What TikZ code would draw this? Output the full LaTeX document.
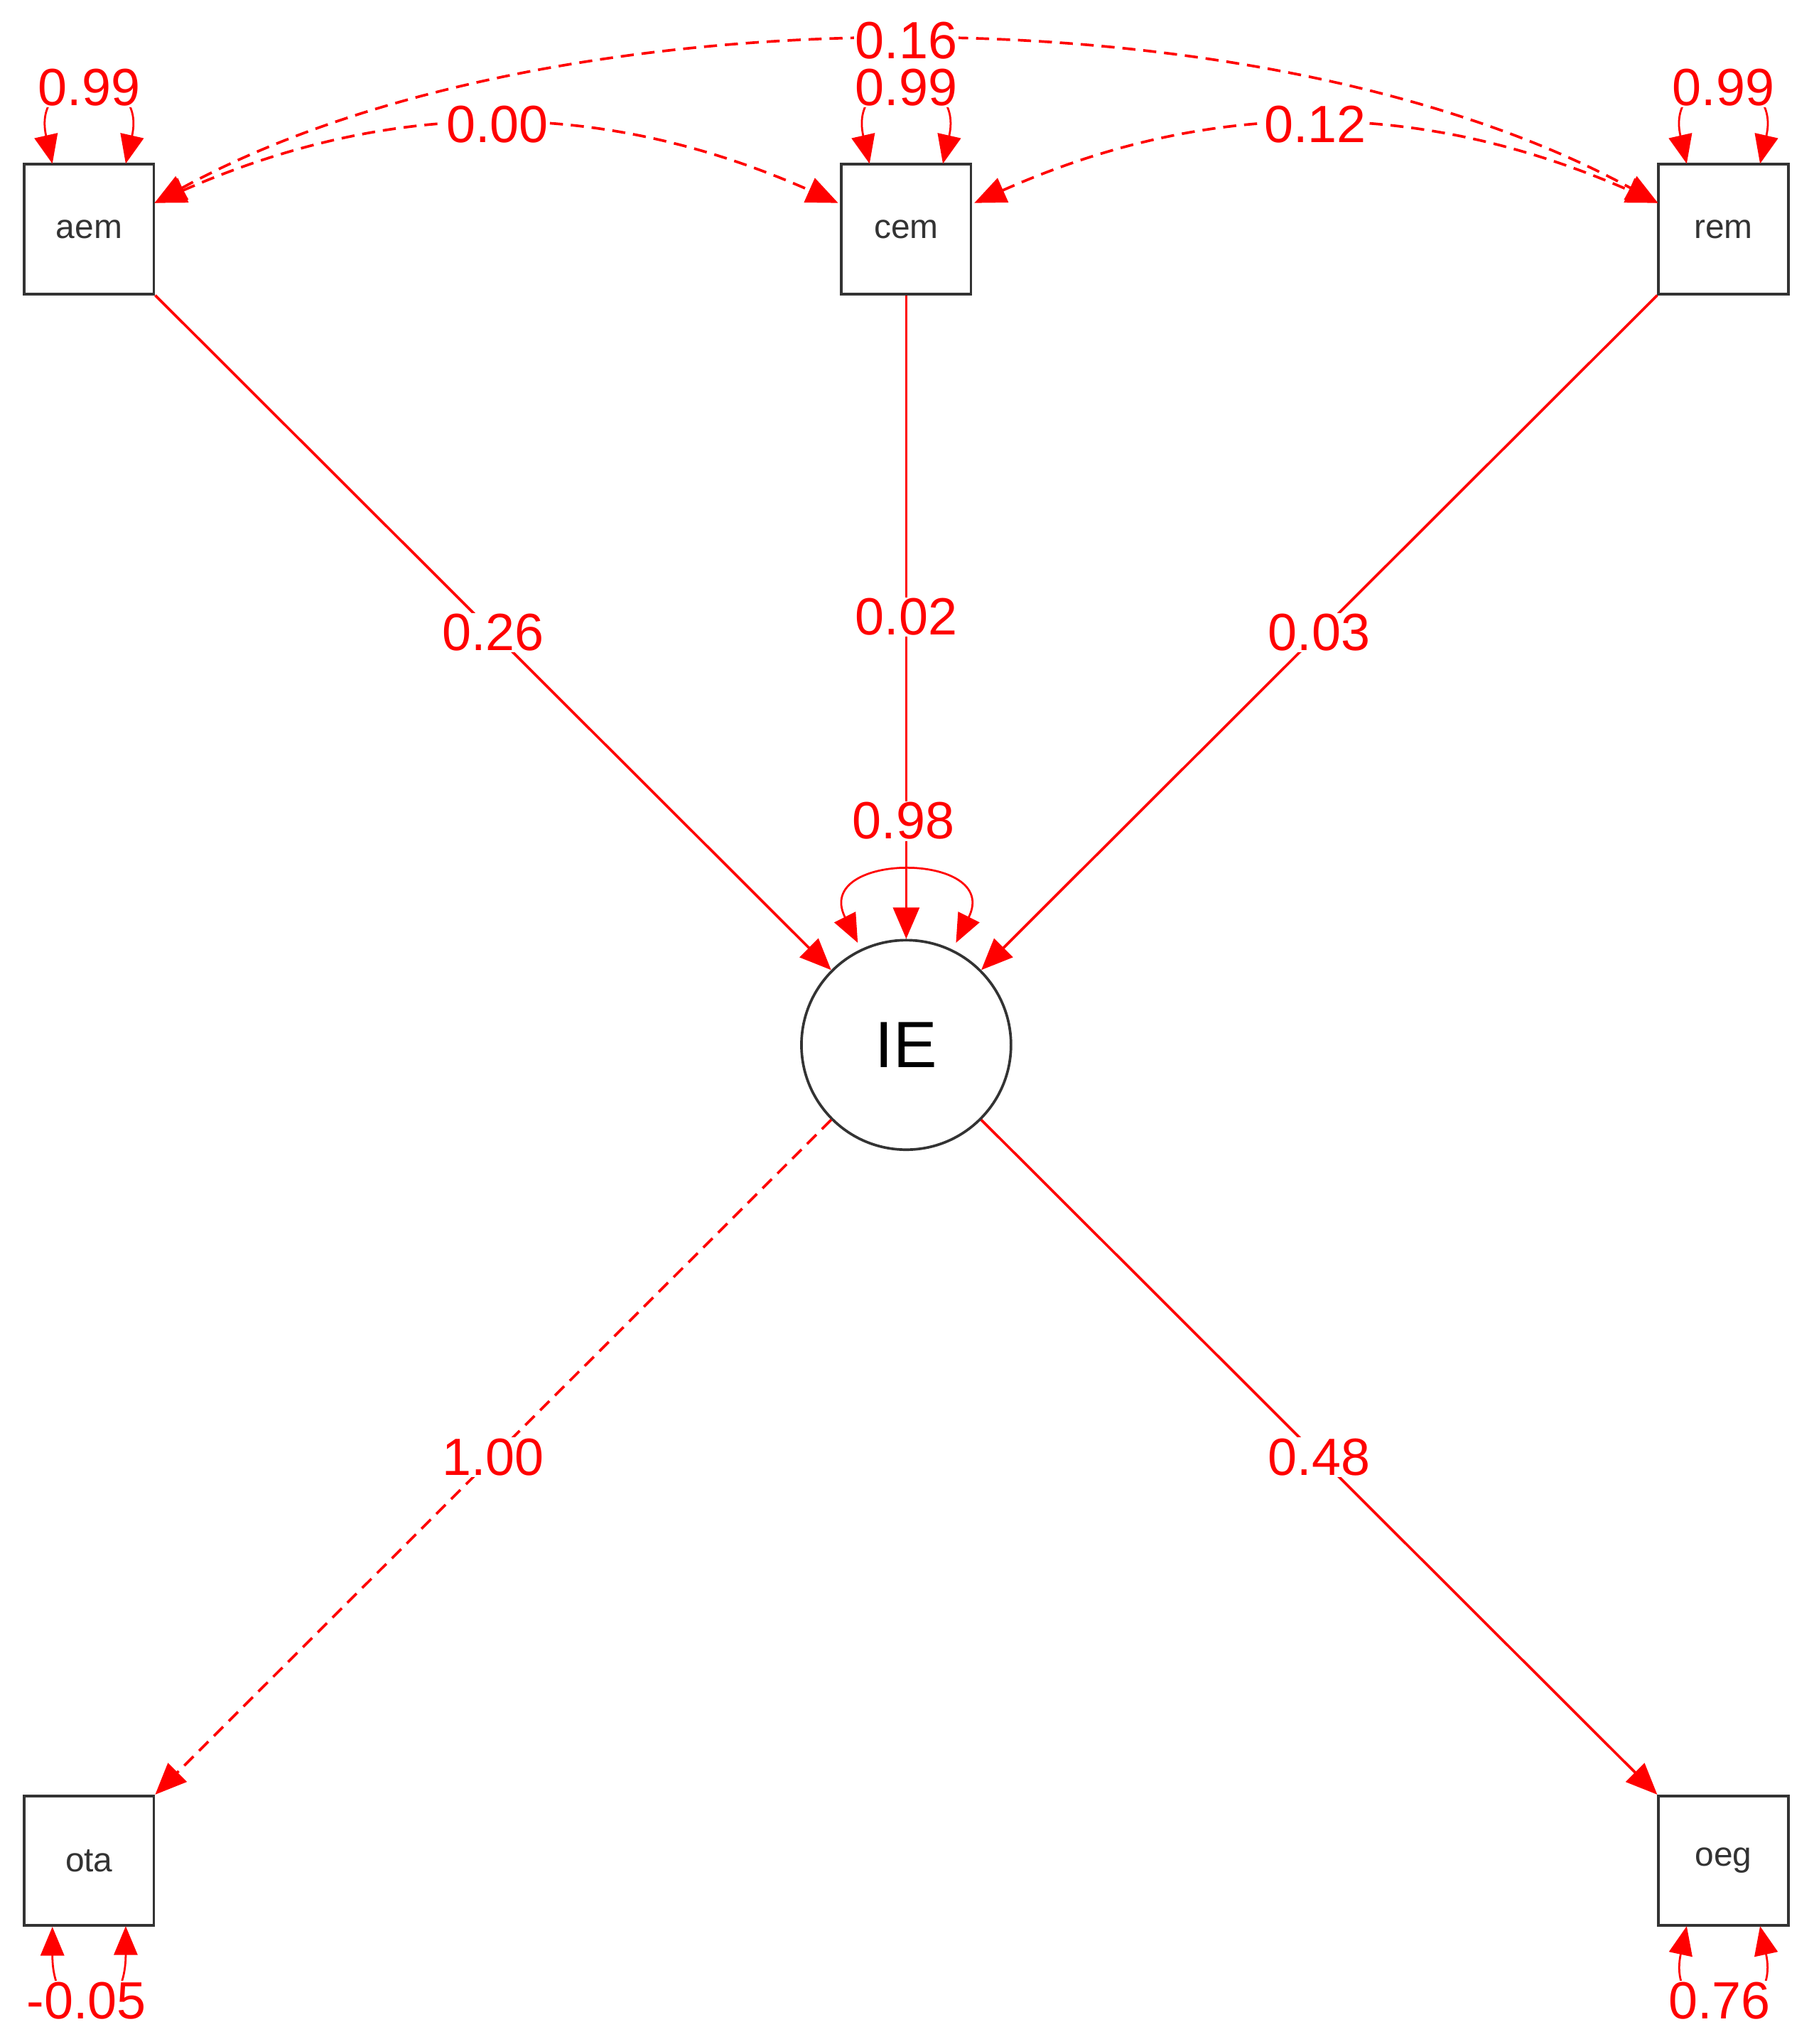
\documentclass[tikz,border=0pt]{standalone}
\usepackage{fontspec}
\setmainfont{Liberation Sans}
\usetikzlibrary{arrows.meta}
\begin{document}
\begin{tikzpicture}[x=1pt,y=-1pt,
  obs/.style={draw=black!80,line width=2pt,minimum size=99pt,inner sep=0pt,font=\fontsize{26}{28}\selectfont,text=black!80},
  lat/.style={draw=black!80,line width=2pt,circle,minimum size=160pt,font=\fontsize{50}{54}\selectfont},
  pth/.style={red,line width=2pt,-{Triangle[length=24pt,width=20pt]}},
  cov/.style={red,line width=2pt,dashed,dash pattern=on 10pt off 6pt,{Triangle[length=24pt,width=20pt]}-{Triangle[length=24pt,width=20pt]}},
  var/.style={red,line width=1.5pt,{Triangle[length=22pt,width=18pt]}-{Triangle[length=22pt,width=18pt]}},
  lab/.style={fill=white,text=red,inner sep=1pt,font=\fontsize{40}{44}\selectfont}]
\useasboundingbox (0,0) rectangle (1385,1561);
\node[obs] (aem) at (68,175) {aem};
\node[obs] (cem) at (692,175) {cem};
\node[obs] (rem) at (1316,175) {rem};
\node[lat] (IE) at (692,798) {IE};
\node[obs] (ota) at (68,1421) {ota};
\node[obs] (oeg) at (1316,1421) {oeg};
% paths
\draw[pth] (aem.south east) -- (IE) node[lab,pos=0.5] {0.26};
\draw[pth] (cem.south) -- (IE.north) node[lab,pos=0.5] {0.02};
\draw[pth] (rem.south west) -- (IE) node[lab,pos=0.5] {0.03};
\draw[pth,dashed,dash pattern=on 10pt off 6pt] (IE) -- (ota.north east) node[lab,pos=0.5] {1.00};
\draw[pth] (IE) -- (oeg.north west) node[lab,pos=0.5] {0.48};
% covariances
\coordinate (a1) at (118,155); \coordinate (c1) at (640,155);
\coordinate (c2) at (744,155); \coordinate (r1) at (1266,155);
\draw[cov] (a1) .. controls (300,75) and (460,75) .. (c1) node[lab,pos=0.5] {0.00};
\draw[cov] (c2) .. controls (924,75) and (1084,75) .. (r1) node[lab,pos=0.5] {0.12};
\draw[cov] (a1) .. controls (420,-10) and (964,-10) .. (r1) node[lab,pos=0.5] {0.16};
% variances
\foreach \n/\x in {aem/68,cem/692,rem/1316}{
  \draw[var] (\x-28,125) .. controls (\x-45,50) and (\x+45,50) .. (\x+28,125);
  \node[lab] at (\x,67) {0.99};}
\draw[var] (ota.south) ++(-28,0) .. controls (40,1550) and (96,1550) .. (96,1471);
\node[lab] at (66,1528) {-0.05};
\draw[var] (1288,1471) .. controls (1271,1550) and (1361,1550) .. (1344,1471);
\node[lab] at (1313,1528) {0.76};
\draw[var] (655,720) .. controls (620,650) and (765,650) .. (730,720);
\node[lab] at (690,627) {0.98};
\end{tikzpicture}
\end{document}
